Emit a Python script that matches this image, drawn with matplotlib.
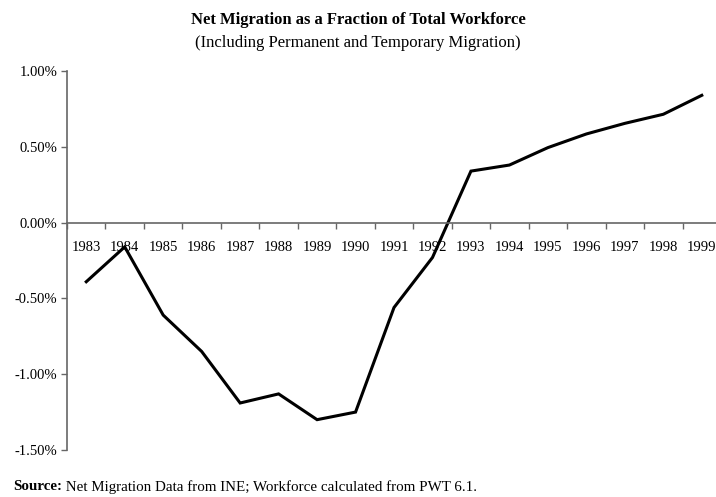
import matplotlib
matplotlib.use("Agg")
import matplotlib.pyplot as plt
from matplotlib.ticker import FuncFormatter, FixedLocator, NullFormatter

plt.rcParams["font.family"] = ["Liberation Serif", "DejaVu Serif"]

# ── Data ──
years = ["1983", "1984", "1985", "1986", "1987", "1988", "1989", "1990", "1991",
         "1992", "1993", "1994", "1995", "1996", "1997", "1998", "1999"]
net_migration_pct = [-0.39, -0.16, -0.61, -0.85, -1.19, -1.13, -1.30, -1.25, -0.56,
                     -0.23, 0.34, 0.38, 0.495, 0.585, 0.655, 0.715, 0.84]
y_ticks = [1.0, 0.5, 0.0, -0.5, -1.0, -1.5]

AXIS_COLOR = "#666666"


def main():
    fig = plt.figure(figsize=(7.16, 4.97), dpi=100)
    ax = fig.add_axes([0.0936, 0.0946, 0.9134, 0.7624])

    x = list(range(len(years)))
    ax.plot(x, net_migration_pct, color="black", linewidth=2.2, solid_joinstyle="miter")

    ax.set_xlim(-0.5, len(years) - 0.5)
    ax.set_ylim(-1.5, 1.0)

    # spines: left axis + horizontal axis at zero
    ax.spines["top"].set_visible(False)
    ax.spines["right"].set_visible(False)
    ax.spines["bottom"].set_position(("data", 0))
    for s in ("left", "bottom"):
        ax.spines[s].set_color(AXIS_COLOR)
        ax.spines[s].set_linewidth(1.2)

    ax.set_yticks(y_ticks)
    ax.yaxis.set_major_formatter(FuncFormatter(lambda v, p: f"{v:.2f}%"))
    ax.tick_params(axis="y", direction="out", length=4, width=1, color=AXIS_COLOR,
                   labelsize=10.5, pad=3)

    # x ticks between categories, labels at category centers
    ax.xaxis.set_major_locator(FixedLocator([i - 0.5 for i in range(len(years) + 1)]))
    ax.xaxis.set_major_formatter(NullFormatter())
    ax.xaxis.set_minor_locator(FixedLocator(x))
    ax.set_xticklabels(years, minor=True)
    ax.tick_params(axis="x", which="major", direction="out", length=4, width=1,
                   color=AXIS_COLOR)
    ax.tick_params(axis="x", which="minor", length=0, labelsize=10.5, pad=13)

    # ── Titles ──
    fig.text(0.5, 1 - 20 / 497, "Net Migration as a Fraction of Total Workforce",
             ha="center", va="center", fontsize=12, fontweight="bold")
    fig.text(0.5, 1 - 43 / 497, "(Including Permanent and Temporary Migration)",
             ha="center", va="center", fontsize=12)

    # ── Source note ──
    src = fig.text(13 / 716, 1 - 487 / 497, "Source:", ha="left", va="center",
                   fontsize=10.8, fontweight="bold")
    ax.annotate(" Net Migration Data from INE; Workforce calculated from PWT 6.1.",
                xy=(1, 0.5), xycoords=src, ha="left", va="center", fontsize=10.8)

    fig.savefig("out.png", dpi=100)
    plt.close(fig)


if __name__ == "__main__":
    main()
